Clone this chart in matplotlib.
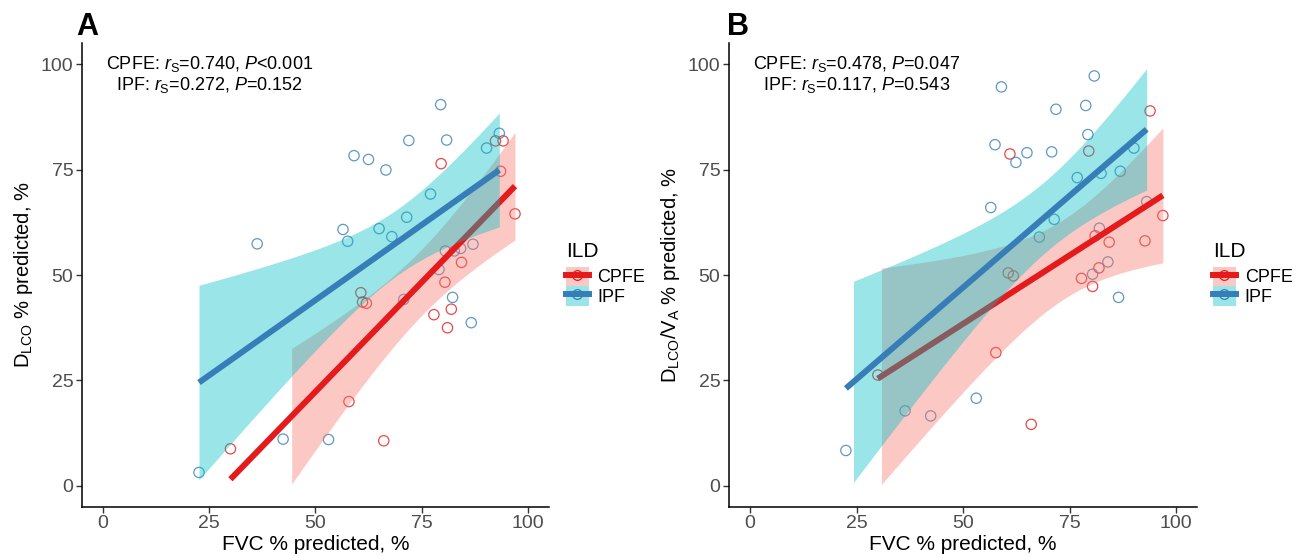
import numpy as np
import matplotlib
matplotlib.use("Agg")
import matplotlib.pyplot as plt
from matplotlib.patches import Patch
from matplotlib.lines import Line2D

plt.rcParams['font.family'] = ['Liberation Sans', 'DejaVu Sans']
plt.rcParams['mathtext.fontset'] = 'custom'
plt.rcParams['mathtext.rm'] = 'Liberation Sans'
plt.rcParams['mathtext.it'] = 'Liberation Sans:italic'
plt.rcParams['mathtext.bf'] = 'Liberation Sans:bold'

# panel A : FVC vs DLCO
fvc_a_cpfe = [92.4, 94.2, 79.6, 93.6, 97.0, 84.4, 80.5, 60.7, 61.1, 62.0, 82.0, 77.9, 81.1, 57.9, 66.1, 30.0]
dlco_cpfe = [81.8, 81.8, 76.4, 74.6, 64.5, 53.0, 48.3, 45.8, 43.6, 43.3, 41.9, 40.6, 37.5, 20.0, 10.7, 8.8]
fvc_a_ipf = [79.5, 72.0, 80.9, 59.1, 62.5, 66.6, 93.3, 90.3, 77.1, 71.5, 65.0, 68.0, 56.5, 57.6, 36.3,
             80.6, 82.7, 84.2, 87.1, 79.1, 70.8, 82.3, 86.7, 42.4, 53.1, 22.6]
dlco_ipf = [90.4, 81.9, 82.0, 78.3, 77.4, 74.9, 83.6, 80.1, 69.2, 63.7, 61.0, 59.1, 60.8, 58.0, 57.4,
            55.7, 55.7, 56.3, 57.3, 51.3, 44.2, 44.7, 38.7, 11.1, 11.0, 3.2]

# panel B : FVC vs DLCO/VA
fvc_b_cpfe = [93.9, 61.0, 79.5, 96.9, 81.0, 84.3, 92.7, 81.9, 60.6, 61.8, 77.8, 80.4, 57.7, 30.0, 66.0]
kco_cpfe = [88.9, 78.7, 79.4, 64.1, 59.3, 57.8, 58.1, 51.7, 50.5, 49.8, 49.2, 47.3, 31.6, 26.3, 14.6]
fvc_b_ipf = [80.8, 59.0, 71.8, 78.8, 79.3, 57.5, 65.0, 62.4, 70.8, 90.1, 76.8, 82.4, 86.9, 56.5, 71.4,
             67.9, 82.0, 84.0, 80.4, 93.1, 86.5, 53.1, 36.4, 42.4, 22.5]
kco_ipf = [97.2, 94.6, 89.3, 90.2, 83.3, 80.9, 79.0, 76.7, 79.2, 80.1, 73.1, 74.1, 74.6, 66.0, 63.2,
           59.0, 61.1, 53.1, 50.2, 67.4, 44.7, 20.8, 17.8, 16.6, 8.4]

groups = ["CPFE", "IPF"]
line_cols = ["#E41A1C", "#377EB8"]
fill_cols = ["#F8766D", "#00BFC4"]
stats_a = ["CPFE: $r_\\mathrm{S}$=0.740, $P$<0.001", "IPF: $r_\\mathrm{S}$=0.272, $P$=0.152"]
stats_b = ["CPFE: $r_\\mathrm{S}$=0.478, $P$=0.047", "IPF: $r_\\mathrm{S}$=0.117, $P$=0.543"]
ticks = [0, 25, 50, 75, 100]


def tq975(df):
    # t quantile (0.975), Cornish-Fisher expansion
    z = 1.959964
    return (z + (z**3 + z) / (4 * df) + (5 * z**5 + 16 * z**3 + 3 * z) / (96 * df**2)
            + (3 * z**7 + 19 * z**5 + 17 * z**3 - 15 * z) / (384 * df**3))


def lm_band(x, y):
    x = np.asarray(x, float)
    y = np.asarray(y, float)
    n = len(x)
    b, a = np.polyfit(x, y, 1)
    s = np.sqrt(np.sum((y - a - b * x) ** 2) / (n - 2))
    xs = np.linspace(x.min(), x.max(), 80)
    fit = a + b * xs
    se = s * np.sqrt(1 / n + (xs - x.mean()) ** 2 / np.sum((x - x.mean()) ** 2))
    t = tq975(n - 2)
    return xs, fit, fit - t * se, fit + t * se


def panel(ax, xs_list, ys_list, ylab, stats):
    for x, y, c in zip(xs_list, ys_list, line_cols):
        ax.scatter(x, y, s=55, facecolors='none', edgecolors=c, linewidths=0.9, alpha=0.8, zorder=1)
    z = 2
    for x, y, lc, fc in zip(xs_list, ys_list, line_cols, fill_cols):
        xx, fit, lo, hi = lm_band(x, y)
        ok = (lo >= 0) & (hi <= 100)
        ax.fill_between(xx, lo, hi, where=ok, color=fc, alpha=0.4, lw=0, zorder=z)
        okl = (fit >= 0) & (fit <= 100)
        ax.plot(xx[okl], fit[okl], color=lc, lw=4.3, solid_capstyle='butt', zorder=z + 1)
        z += 2
    ax.set_xlim(-5, 105)
    ax.set_ylim(-5, 105)
    ax.set_xticks(ticks)
    ax.set_yticks(ticks)
    for sp in ['top', 'right']:
        ax.spines[sp].set_visible(False)
    for sp in ['left', 'bottom']:
        ax.spines[sp].set_linewidth(1.1)
    ax.tick_params(length=4, width=1, color='#333333', labelsize=14, labelcolor='#4D4D4D', pad=2)
    ax.set_xlabel("FVC % predicted, %", fontsize=15, labelpad=2)
    ax.set_ylabel(ylab, fontsize=14.5, labelpad=4)
    ax.text(25, 100, stats[0], ha='center', va='center', fontsize=13, zorder=10)
    ax.text(25, 95, stats[1], ha='center', va='center', fontsize=13, zorder=10)


fig = plt.figure(figsize=(12.96, 5.56), dpi=100)
axA = fig.add_axes([0.0631, 0.0881, 0.3605, 0.8345])
axB = fig.add_axes([0.5623, 0.0881, 0.3616, 0.8345])

panel(axA, [fvc_a_cpfe, fvc_a_ipf], [dlco_cpfe, dlco_ipf],
      "D$_{\\mathregular{LCO}}$ % predicted, %", stats_a)
panel(axB, [fvc_b_cpfe, fvc_b_ipf], [kco_cpfe, kco_ipf],
      "D$_{\\mathregular{LCO}}$/V$_{\\mathregular{A}}$ % predicted, %", stats_b)

fig.text(0.0586, 0.937, "A", fontsize=22, fontweight='bold')
fig.text(0.561, 0.937, "B", fontsize=22, fontweight='bold')

for lx in [0.4367, 0.936]:
    handles = []
    for lc, fc in zip(line_cols, fill_cols):
        handles.append((Patch(facecolor=fc, alpha=0.4, edgecolor='none'),
                        Line2D([], [], color=lc, lw=4.3, marker='o', mfc='none', mec=lc, ms=7, mew=0.9)))
    fig.text(lx, 0.538, "ILD", fontsize=15)
    fig.legend(handles, groups, loc='upper left', bbox_to_anchor=(lx, 0.52),
               frameon=False, fontsize=13, handlelength=1.25, handleheight=1.25,
               handletextpad=0.5, labelspacing=0.0, borderpad=0, borderaxespad=0)

fig.savefig("out.png", dpi=100)
